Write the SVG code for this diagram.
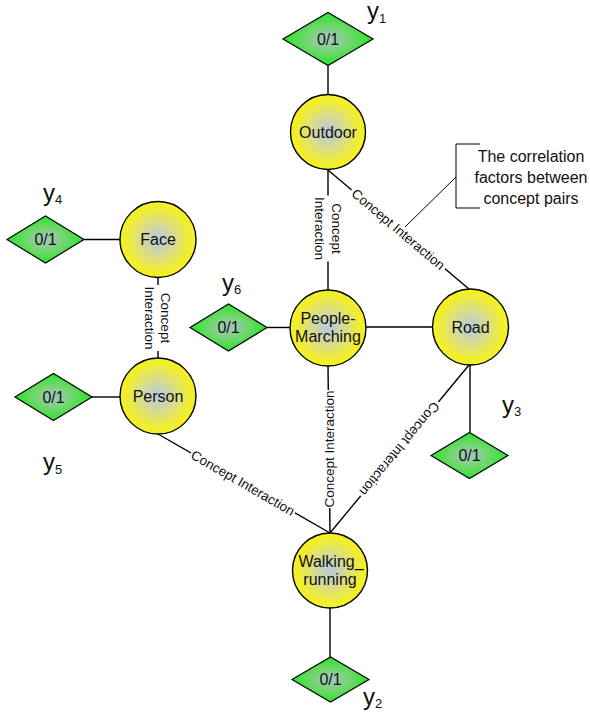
<svg xmlns="http://www.w3.org/2000/svg" width="590" height="717" viewBox="0 0 590 717">
<style>
  text { font-family: "Liberation Sans", Arial, sans-serif; fill: #111; }
  .node { stroke: #000; stroke-width: 1.4; fill: url(#gy); }
  .dia { stroke: #000; stroke-width: 1.2; fill: url(#gg); }
  .lbl { font-size: 16px; text-anchor: middle; }
  .edge { stroke: #000; stroke-width: 1.4; fill: none; }
  .elbl { font-size: 13.5px; text-anchor: middle; }
  .bg { fill: #fff; }
  .ylab { font-size: 24px; }
  .sub { font-size: 13px; }
  .thin { stroke: #000; stroke-width: 1; fill: none; }
</style>
<defs>
  <radialGradient id="gy" cx="50%" cy="50%" r="50%">
    <stop offset="0" stop-color="#b6c9de"/>
    <stop offset="0.45" stop-color="#d9dc8c"/>
    <stop offset="0.8" stop-color="#eeec38"/>
    <stop offset="1" stop-color="#f5f21c"/>
  </radialGradient>
  <radialGradient id="gg" cx="50%" cy="50%" r="50%">
    <stop offset="0" stop-color="#a9c6c4"/>
    <stop offset="0.5" stop-color="#72d66e"/>
    <stop offset="1" stop-color="#26e626"/>
  </radialGradient>
</defs>

<g id="connectors">
  <line class="edge" x1="328" y1="65.5" x2="328" y2="95"/>
  <line class="edge" x1="83.5" y1="239.5" x2="120" y2="239.5"/>
  <line class="edge" x1="91.5" y1="397" x2="120" y2="397"/>
  <line class="edge" x1="267" y1="327.5" x2="290" y2="327.5"/>
  <line class="edge" x1="366" y1="327" x2="432" y2="327"/>
  <line class="edge" x1="470" y1="365" x2="470" y2="432"/>
  <line class="edge" x1="330" y1="608" x2="330" y2="657"/>
  <line class="edge" x1="328" y1="170" x2="328" y2="290"/>
  <line class="edge" x1="158" y1="278" x2="158" y2="358"/>
  <line class="edge" x1="328" y1="170" x2="469" y2="289"/>
  <line class="edge" x1="328" y1="366" x2="330" y2="533"/>
  <line class="edge" x1="158" y1="434" x2="330" y2="533"/>
  <line class="edge" x1="469" y1="365" x2="330" y2="533"/>

  <g transform="translate(328 228.5) rotate(90)">
    <rect class="bg" x="-33" y="-17" width="66" height="34"/>
    <text class="elbl" x="0" y="-3.5">Concept</text>
    <text class="elbl" x="0" y="13">Interaction</text>
  </g>
  <g transform="translate(157.5 318) rotate(90)">
    <rect class="bg" x="-33" y="-17" width="66" height="34"/>
    <text class="elbl" x="0" y="-3.5">Concept</text>
    <text class="elbl" x="0" y="13">Interaction</text>
  </g>
  <g transform="translate(398.3 229.3) rotate(40.2)">
    <rect class="bg" x="-61" y="-7" width="122" height="14"/>
    <text class="elbl" x="0" y="4.7">Concept Interaction</text>
  </g>
  <g transform="translate(242.9 482.9) rotate(29.9)">
    <rect class="bg" x="-60" y="-7" width="120" height="14"/>
    <text class="elbl" x="0" y="4.7">Concept Interaction</text>
  </g>
  <g transform="translate(329 449) rotate(-90)">
    <rect class="bg" x="-59" y="-7" width="118" height="14"/>
    <text class="elbl" x="0" y="4.7">Concept Interaction</text>
  </g>
  <g transform="translate(399.6 448.9) rotate(129.6)">
    <rect class="bg" x="-61" y="-7" width="122" height="14"/>
    <text class="elbl" x="0" y="4.7">Concept Interaction</text>
  </g>
</g>

<g id="callout">
  <line class="thin" x1="405" y1="227" x2="456" y2="177"/>
  <polyline class="thin" points="480,144 456,144 456,208 480,208"/>
  <text class="lbl" x="531" y="162">The correlation</text>
  <text class="lbl" x="531" y="183">factors between</text>
  <text class="lbl" x="531" y="204">concept pairs</text>
</g>

<g id="n-outdoor">
  <circle class="node" cx="328" cy="132" r="37.5"/>
  <text class="lbl" x="328" y="137.5">Outdoor</text>
</g>
<g id="n-face">
  <circle class="node" cx="158" cy="239.5" r="38"/>
  <text class="lbl" x="158" y="245">Face</text>
</g>
<g id="n-person">
  <circle class="node" cx="158" cy="396" r="38"/>
  <text class="lbl" x="158" y="402">Person</text>
</g>
<g id="n-people-marching">
  <circle class="node" cx="328" cy="328" r="38"/>
  <text class="lbl" x="328" y="324">People-</text>
  <text class="lbl" x="328" y="342">Marching</text>
</g>
<g id="n-road">
  <circle class="node" cx="470.5" cy="327" r="38"/>
  <text class="lbl" x="470.5" y="333">Road</text>
</g>
<g id="n-walking">
  <circle class="node" cx="330" cy="570.5" r="37.5"/>
  <text class="lbl" x="331" y="567">Walking_</text>
  <text class="lbl" x="330" y="585">running</text>
</g>

<g id="d-y1">
  <polygon class="dia" points="283,39 328,12.5 373,39 328,65.5"/>
  <text class="lbl" x="328" y="45">0/1</text>
  <text class="ylab" x="367" y="19">y<tspan class="sub" dy="3.5">1</tspan></text>
</g>
<g id="d-y4">
  <polygon class="dia" points="7,239.5 45.5,216 84,239.5 45.5,263"/>
  <text class="lbl" x="45.5" y="245">0/1</text>
  <text class="ylab" x="43" y="200.5">y<tspan class="sub" dy="3.5">4</tspan></text>
</g>
<g id="d-y5">
  <polygon class="dia" points="15,397 53.5,373.5 92,397 53.5,420.5"/>
  <text class="lbl" x="53.5" y="402.5">0/1</text>
  <text class="ylab" x="43" y="470">y<tspan class="sub" dy="3.5">5</tspan></text>
</g>
<g id="d-y6">
  <polygon class="dia" points="190,327.5 228.5,304 267,327.5 228.5,351"/>
  <text class="lbl" x="228.5" y="333">0/1</text>
  <text class="ylab" x="222" y="290.5">y<tspan class="sub" dy="3.5">6</tspan></text>
</g>
<g id="d-y3">
  <polygon class="dia" points="431,455.5 469.5,432.5 508,455.5 469.5,478.5"/>
  <text class="lbl" x="469.5" y="461">0/1</text>
  <text class="ylab" x="502" y="412.5">y<tspan class="sub" dy="3.5">3</tspan></text>
</g>
<g id="d-y2">
  <polygon class="dia" points="292,679.5 330.5,657 369,679.5 330.5,702"/>
  <text class="lbl" x="330.5" y="685">0/1</text>
  <text class="ylab" x="363" y="704.5">y<tspan class="sub" dy="3.5">2</tspan></text>
</g>
</svg>
